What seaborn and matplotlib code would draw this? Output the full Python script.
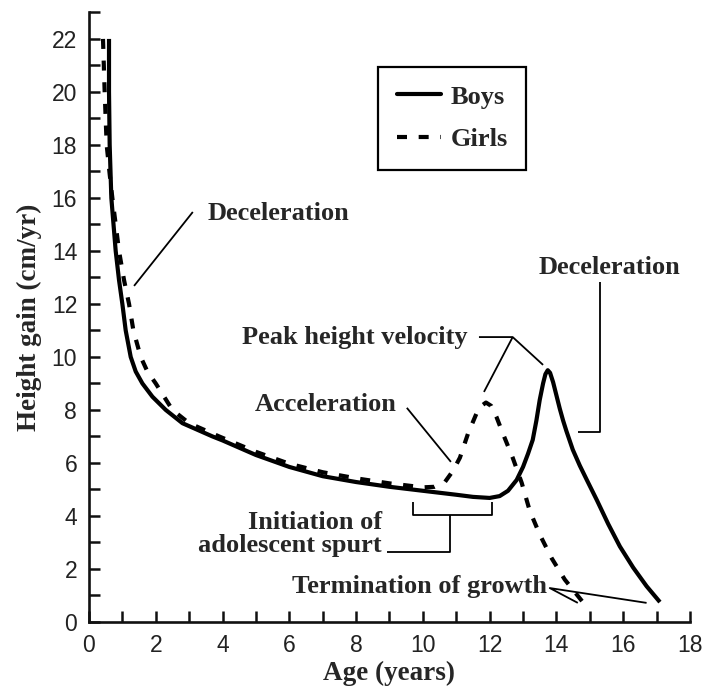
import matplotlib
matplotlib.use("Agg")
import matplotlib.pyplot as plt
import seaborn as sns
import pandas as pd
from matplotlib.lines import Line2D

# ---- data ----
boys_age = [0.60, 0.60, 0.62, 0.67, 0.80, 0.90, 1.00, 1.10, 1.25, 1.40, 1.60, 1.90,
            2.30, 2.80, 3.70, 4.0, 5.0, 6.0, 7.0, 8.0, 9.0, 10.0, 11.0, 11.5,
            12.0, 12.3, 12.55, 12.81, 13.0, 13.15, 13.29, 13.4, 13.5, 13.6, 13.67,
            13.74, 13.81, 13.9, 14.0, 14.1, 14.2, 14.3, 14.49, 14.7, 14.91, 15.21,
            15.55, 15.9, 16.3, 16.7, 17.1]
boys_gain = [22.0, 20.0, 18.0, 16.0, 14.0, 12.9, 12.0, 11.0, 10.0, 9.45, 9.0, 8.5,
             8.0, 7.5, 7.0, 6.85, 6.3, 5.85, 5.5, 5.28, 5.1, 4.95, 4.8, 4.72,
             4.68, 4.75, 4.95, 5.36, 5.85, 6.35, 6.87, 7.6, 8.38, 9.0, 9.35,
             9.5, 9.4, 9.05, 8.55, 8.05, 7.6, 7.2, 6.5, 5.9, 5.36, 4.6,
             3.7, 2.85, 2.05, 1.35, 0.75]

girls_age = [0.42, 0.47, 0.53, 0.62, 0.70, 0.90, 1.05, 1.20, 1.33, 1.55, 1.75,
             2.00, 2.50, 3.00, 3.90, 5.0, 6.0, 7.0, 8.0, 9.0, 10.0, 10.35,
             10.66, 10.9, 11.11, 11.35, 11.6, 11.75, 11.89, 12.05, 12.2, 12.4,
             12.69, 12.96, 13.2, 13.5, 13.86, 14.25, 14.79]
girls_gain = [22.0, 20.0, 18.0, 16.9, 16.0, 14.0, 12.9, 12.0, 11.0, 10.0, 9.45,
              9.0, 8.0, 7.5, 7.0, 6.42, 5.97, 5.65, 5.42, 5.23, 5.08, 5.1,
              5.28, 5.7, 6.2, 7.1, 7.85, 8.15, 8.28, 8.15, 7.75, 7.1,
              6.2, 5.25, 4.2, 3.3, 2.4, 1.6, 0.75]

series_names = ["Boys", "Girls"]
x_ticks = list(range(0, 19, 2))
y_ticks = list(range(0, 23, 2))
x_label = "Age (years)"
y_label = "Height gain (cm/yr)"

# ---- style ----
sns.set_style("ticks")
plt.rcParams["font.family"] = ["Liberation Sans", "DejaVu Sans"]
serif_bold = dict(family=["Liberation Serif", "DejaVu Serif"], weight="bold")

df = pd.concat([
    pd.DataFrame({"Age": boys_age, "Gain": boys_gain, "Sex": series_names[0]}),
    pd.DataFrame({"Age": girls_age, "Gain": girls_gain, "Sex": series_names[1]}),
], ignore_index=True)

dash_pat = (2.4, 2.8)

fig = plt.figure(figsize=(7.05, 6.9), dpi=100)
ax = fig.add_axes([0.1262, 0.0986, 0.8525, 0.8834])

sns.lineplot(data=df, x="Age", y="Gain", style="Sex", units="Sex",
             estimator=None, sort=False, color="black", linewidth=3.0,
             dashes={"Boys": "", "Girls": dash_pat}, ax=ax, legend=False)
for ln in ax.lines:
    ln.set_dash_capstyle("butt")
    ln.set_solid_capstyle("butt")
    ln.set_solid_joinstyle("round")

ax.set_xlim(0, 18)
ax.set_ylim(0, 23)
ax.set_xticks(x_ticks)
ax.set_xticks(range(0, 19), minor=True)
ax.set_yticks(y_ticks)
ax.set_yticks(range(0, 24), minor=True)
ax.tick_params(which="both", direction="in", length=8, width=1.8, color="#111111")
ax.tick_params(which="major", labelsize=16.5, pad=8.5, labelcolor="#222222")
sns.despine(ax=ax)
for s in ("left", "bottom"):
    ax.spines[s].set_linewidth(1.9)
    ax.spines[s].set_color("#111111")

ax.set_xlabel(x_label, fontsize=19.5, labelpad=3, **serif_bold)
ax.set_ylabel(y_label, fontsize=19.5, labelpad=7, **serif_bold)

# legend
handles = [Line2D([], [], color="black", lw=3.0),
           Line2D([], [], color="black", lw=3.0, dashes=dash_pat, dash_capstyle="butt")]
leg = ax.legend(handles, series_names, loc="upper left", bbox_to_anchor=(0.481, 0.911),
                frameon=True, fancybox=False, framealpha=1, edgecolor="black",
                prop=dict(family=["Liberation Serif"], weight="bold", size=19),
                handlelength=1.7, handletextpad=0.35, borderpad=0.7, labelspacing=0.72,
                borderaxespad=0)
leg.get_frame().set_linewidth(1.6)

# ---- annotations ----
ann = dict(color="black", lw=1.3, solid_capstyle="butt")
fs = 19
ax.text(3.56, 15.4, "Deceleration", ha="left", va="center", fontsize=fs, **serif_bold)
ax.plot([3.11, 1.35], [15.47, 12.68], **ann)

ax.text(15.6, 13.36, "Deceleration", ha="center", va="center", fontsize=fs, **serif_bold)
ax.plot([15.3, 15.3, 14.64], [12.83, 7.17, 7.17], **ann)

ax.text(11.35, 10.75, "Peak height velocity", ha="right", va="center", fontsize=fs, **serif_bold)
ax.plot([11.68, 12.69, 13.6], [10.75, 10.75, 9.7], **ann)
ax.plot([12.69, 11.83], [10.75, 8.68], **ann)

ax.text(9.22, 8.19, "Acceleration", ha="right", va="center", fontsize=fs, **serif_bold)
ax.plot([9.52, 10.84], [8.08, 6.04], **ann)

ax.text(8.77, 3.32, "Initiation of\nadolescent spurt", ha="right", va="center",
        multialignment="right", fontsize=fs, linespacing=1.05, **serif_bold)
ax.plot([9.7, 9.7, 12.07, 12.07], [4.53, 4.04, 4.04, 4.53], **ann)
ax.plot([10.81, 10.81, 8.92], [4.04, 2.64, 2.64], **ann)

ax.text(13.71, 1.32, "Termination of growth", ha="right", va="center", fontsize=fs, **serif_bold)
ax.plot([14.64, 13.8, 16.7], [0.72, 1.28, 0.72], **ann)

fig.savefig("out.png", dpi=100, facecolor="white")
